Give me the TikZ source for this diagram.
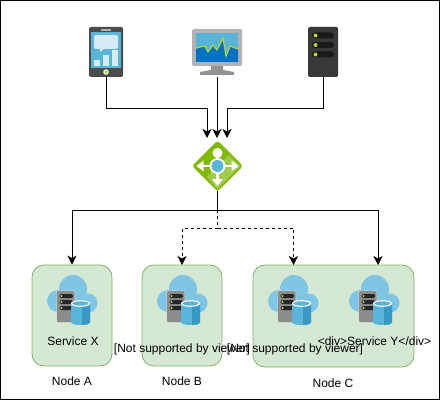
\documentclass[tikz,border=0pt]{standalone}
\usepackage{fontspec}
\setmainfont{Liberation Sans}
\usetikzlibrary{arrows.meta}

\definecolor{skyblue}{HTML}{59B4D9}
\definecolor{deepblue}{HTML}{3999C6}
\definecolor{cloudblue}{HTML}{7FC6E6}
\definecolor{screenblue}{HTML}{0072C6}
\definecolor{lime}{HTML}{B8D432}
\definecolor{leaf}{HTML}{7FBA00}
\definecolor{leaflight}{HTML}{A0CB4A}
\definecolor{nodefill}{HTML}{D5E8D4}
\definecolor{nodeedge}{HTML}{82B366}

\tikzset{
    pics/cloudserver/.style={code={
        % cloud
        \fill[cloudblue] (1,-11) circle (14) (-14,1) circle (11) (16,3) circle (9.5);
        \fill[cloudblue] (-14,-4) rectangle (16,12);
        % rack
        \fill[white!70!gray, rounded corners=1pt] (-15.5,-9.5) rectangle (3,22.5);
        \fill[gray!90, rounded corners=1pt] (-15,-9) rectangle (2.5,22);
        \foreach \rowy in {-4,2,8}{
            \fill[black!85, rounded corners=1.5pt] (-12.5,\rowy-2) rectangle (1,\rowy+2);
            \fill[lime] (-10.5,\rowy) circle (1.2);
        }
        % barrel
        \fill[skyblue] (-1,4) -- (-1,22) .. controls (-1,26) and (18,26) .. (18,22) -- (18,4) -- cycle;
        \fill[deepblue] (10,4) -- (10,25) .. controls (14,25) and (18,24) .. (18,22) -- (18,4) -- cycle;
        \filldraw[fill=skyblue, draw=white, line width=1.1pt] (8.5,3.5) ellipse (9 and 2.8);
    }},
    pics/phoneicon/.style={code={
        \fill[black!70, rounded corners=1.5pt] (-17,-25) rectangle (17,25);
        \fill[gray!60] (-5,-22.5) rectangle (5,-21);
        \fill[skyblue] (-15,-20) rectangle (15,16);
        \fill[white!75!skyblue, rounded corners=2pt] (-12,-17) rectangle (12,-3);
        \fill[white!75!skyblue] (-6,-3) -- (-2,-3) -- (-6,0) -- cycle;
        \fill[white!75!skyblue] (-12,8) rectangle (-6,14);
        \fill[white!75!skyblue] (-3,3) rectangle (3,14);
        \fill[white!75!skyblue] (6,-2) rectangle (12,14);
        \fill[white] (0,20) circle (2.8);
        \fill[lime] (0,20) circle (1.8);
    }},
    pics/monitoricon/.style={code={
        \fill[gray!85] (-6,14) -- (6,14) -- (6,18) -- (17,20) -- (17,23) -- (-17,23) -- (-17,20) -- (-6,18) -- cycle;
        \fill[black!30, rounded corners=1.5pt] (-25,-23) rectangle (25,14);
        \fill[skyblue] (-21,-19) rectangle (21,10);
        \fill[screenblue] (-21,-4) -- (-12,-6) -- (-9,0) -- (-4,-7) -- (0,-2) -- (6,-14) -- (9,4) -- (13,-6) -- (21,-3) -- (21,10) -- (-21,10) -- cycle;
        \draw[lime, line width=1.2pt] (-21,-4) -- (-12,-6) -- (-9,0) -- (-4,-7) -- (0,-2) -- (6,-14) -- (9,4) -- (13,-6) -- (21,-3);
    }},
    pics/rackicon/.style={code={
        \fill[black!78, rounded corners=1.5pt] (-15,-25) rectangle (15,25);
        \foreach \rowy in {-16.5,-7,2.5}{
            \fill[black!90, rounded corners=3pt] (-11,\rowy-3) rectangle (11,\rowy+3);
            \fill[lime] (-7.5,\rowy) circle (2);
        }
    }},
    pics/gateicon/.style={code={
        \fill[leaf, rounded corners=3pt] (0,-25.5) -- (25.5,0) -- (0,25.5) -- (-25.5,0) -- cycle;
        \fill[leaflight] (0,23) -- (23,0) -- (11,-11) -- (-11,11) -- cycle;
        \draw[white, line width=2.4pt] (0,-11) -- (0,16) (-17,0) -- (17,0);
        \fill[white] (0,-13) circle (5);
        \fill[white] (0,20) -- (-5.5,13) -- (5.5,13) -- cycle;
        \fill[white] (-21,0) -- (-14,-5.5) -- (-14,5.5) -- cycle;
        \fill[white] (21,0) -- (14,-5.5) -- (14,5.5) -- cycle;
        \fill[white] (0,0) circle (8);
        \fill[skyblue] (0,0) circle (6);
    }}
}

\begin{document}
\begin{tikzpicture}[
        x=1pt, y=-1pt,
        font=\fontsize{12}{14}\selectfont,
        link/.style={-{Stealth[length=9pt, width=9pt, inset=2.5pt]}, line width=0.9pt},
        linkdash/.style={link, dash pattern=on 3pt off 3pt},
        iconbox/.style={inner sep=0pt, minimum width=#1, minimum height=50pt},
        host/.style={draw=nodeedge, fill=nodefill, rounded corners=12pt, line width=0.8pt, inner sep=0pt},
        txt/.style={inner sep=0pt}
    ]
    \useasboundingbox (0,0) rectangle (441,401);
    \draw[line width=1.4pt] (0.7,0.7) rectangle (439.5,399.5);

    \node[iconbox=34pt] (Phone) at (106,52) {};
    \node[iconbox=50pt] (Monitor) at (217,52) {};
    \node[iconbox=30pt] (Rack) at (323,52) {};
    \node[iconbox=50pt] (Gate) at (217.5,166) {};
    \pic at (Phone) {phoneicon};
    \pic at (Monitor) {monitoricon};
    \pic at (Rack) {rackicon};
    \pic at (Gate) {gateicon};

    \node[host, minimum width=80pt, minimum height=101pt] (HostA) at (72,315.5) {};
    \node[host, minimum width=80pt, minimum height=101pt] (HostB) at (182,315.5) {};
    \node[host, minimum width=161pt, minimum height=102pt] (HostC) at (333.5,316) {};

    \pic at (72,300) {cloudserver};
    \pic at (182,300) {cloudserver};
    \pic at (293,300) {cloudserver};
    \pic at (374,300) {cloudserver};

    \node[txt] (SvcX) at (73,341) {Service X};
    \node[txt] (SvcB) at (182,349) {[Not supported by viewer]};
    \node[txt] (SvcC) at (295,349) {[Not supported by viewer]};
    \node[txt] (SvcY) at (374.5,341) {<div>Service Y</div>};
    \node[txt] (LblA) at (72,381) {Node A};
    \node[txt] (LblB) at (182,381) {Node B};
    \node[txt] (LblC) at (333,383) {Node C};

    \coordinate (InL) at (207,138);
    \coordinate (InC) at (217,138);
    \coordinate (InR) at (227,138);
    \coordinate (BendL) at (207,108);
    \coordinate (BendR) at (227,108);
    \coordinate (Fork) at (217.5,210);
    \coordinate (ForkDash) at (217.5,228);
    \coordinate (PortB) at (182,265);
    \coordinate (PortC) at (293.5,265);
    \coordinate (PortY) at (378,265);

    \draw[link] (Phone.south) |- (BendL) -- (InL);
    \draw[link] (Monitor.south) -- (InC);
    \draw[link] (Rack.south) |- (BendR) -- (InR);

    \draw[link] (Gate.south) -- (Fork) -| (HostA.north);
    \draw[link] (Fork) -| (PortY);
    \draw[linkdash] (Fork) -- (ForkDash) -| (PortB);
    \draw[linkdash] (ForkDash) -| (PortC);
\end{tikzpicture}
\end{document}
